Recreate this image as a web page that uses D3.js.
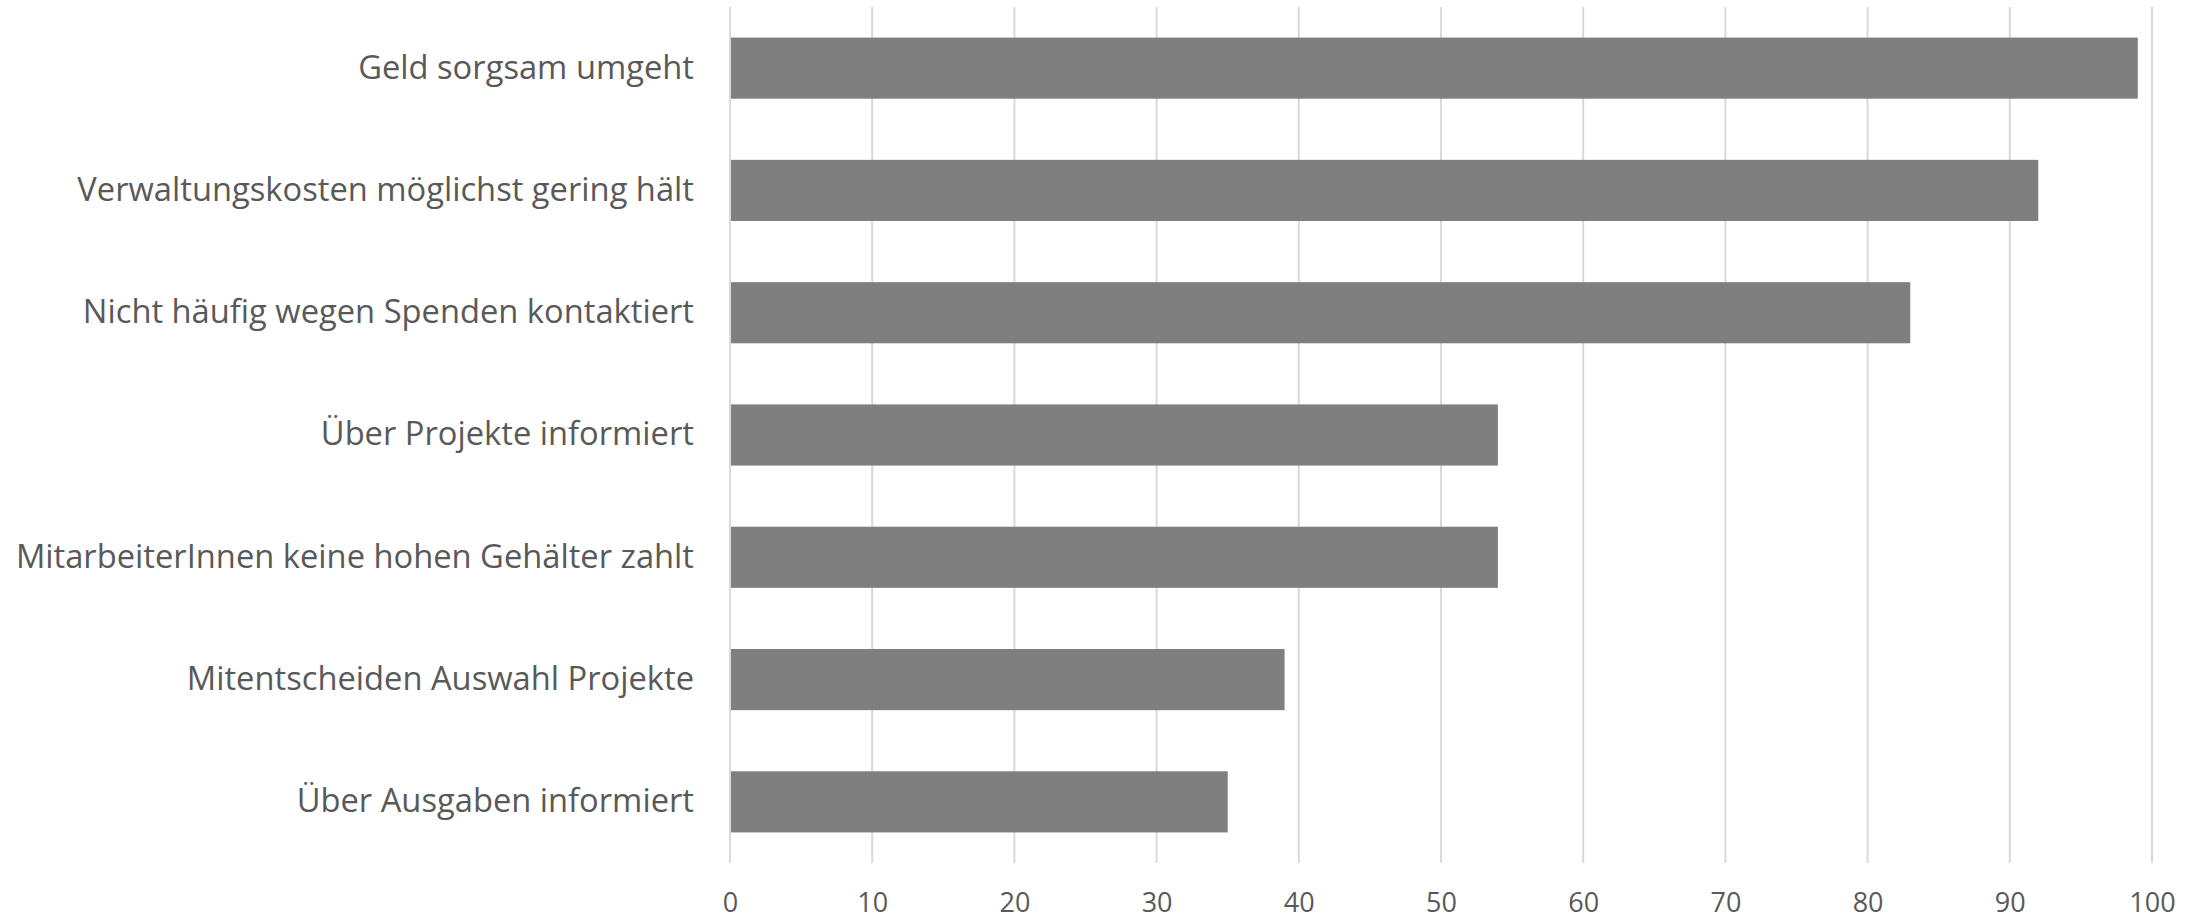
<!DOCTYPE html>
<html>
<head>
<meta charset="utf-8">
<script src="https://cdn.jsdelivr.net/npm/d3@7"></script>
<style>
  html, body { margin: 0; padding: 0; background: #ffffff; }
  svg { display: block; }
  text { font-family: "Open Sans", "Noto Sans", sans-serif; fill: #595959; }
</style>
</head>
<body>
<svg id="chart" width="2198" height="920"></svg>
<script>
const categories = [
  "Geld sorgsam umgeht",
  "Verwaltungskosten möglichst gering hält",
  "Nicht häufig wegen Spenden kontaktiert",
  "Über Projekte informiert",
  "MitarbeiterInnen keine hohen Gehälter zahlt",
  "Mitentscheiden Auswahl Projekte",
  "Über Ausgaben informiert"
];
const values = [99, 92, 83, 54, 54, 39, 35];
const xTicks = [0, 10, 20, 30, 40, 50, 60, 70, 80, 90, 100];

(function () {
const svg = d3.select("#chart");
const mLeft = 730, mRight = 2152, mTop = 7, mBottom = 863;

const x = d3.scaleLinear().domain([0, 100]).range([mLeft, mRight]);
const y = d3.scaleBand().domain(categories).range([mTop, mBottom]).paddingInner(0.5).paddingOuter(0.25);

svg.append("g").selectAll("line").data(xTicks).join("line")
  .attr("x1", d => x(d)).attr("x2", d => x(d))
  .attr("y1", mTop).attr("y2", mBottom)
  .attr("stroke", "#d9d9d9").attr("stroke-width", 2);

svg.append("g").selectAll("rect").data(values).join("rect")
  .attr("x", x(0) + 1)
  .attr("y", (d, i) => y(categories[i]))
  .attr("width", d => x(d) - x(0) - 1)
  .attr("height", y.bandwidth())
  .attr("fill", "#7f7f7f");

const xAxis = d3.axisBottom(x).tickValues(xTicks).tickSize(0).tickPadding(0);
const gx = svg.append("g").attr("transform", `translate(0, ${mBottom + 40})`).call(xAxis);
gx.select(".domain").remove();
gx.selectAll("text").attr("font-size", 27).attr("font-family", "Open Sans").attr("fill", "#595959").attr("y", 0).attr("dy", "0.35em");

const yAxis = d3.axisLeft(y).tickSize(0).tickPadding(0);
const gy = svg.append("g").attr("transform", `translate(${mLeft - 36}, 0)`).call(yAxis);
gy.select(".domain").remove();
gy.selectAll("text").attr("font-size", 32.7).attr("font-family", "Open Sans").attr("fill", "#595959");
})();
</script>
</body>
</html>
